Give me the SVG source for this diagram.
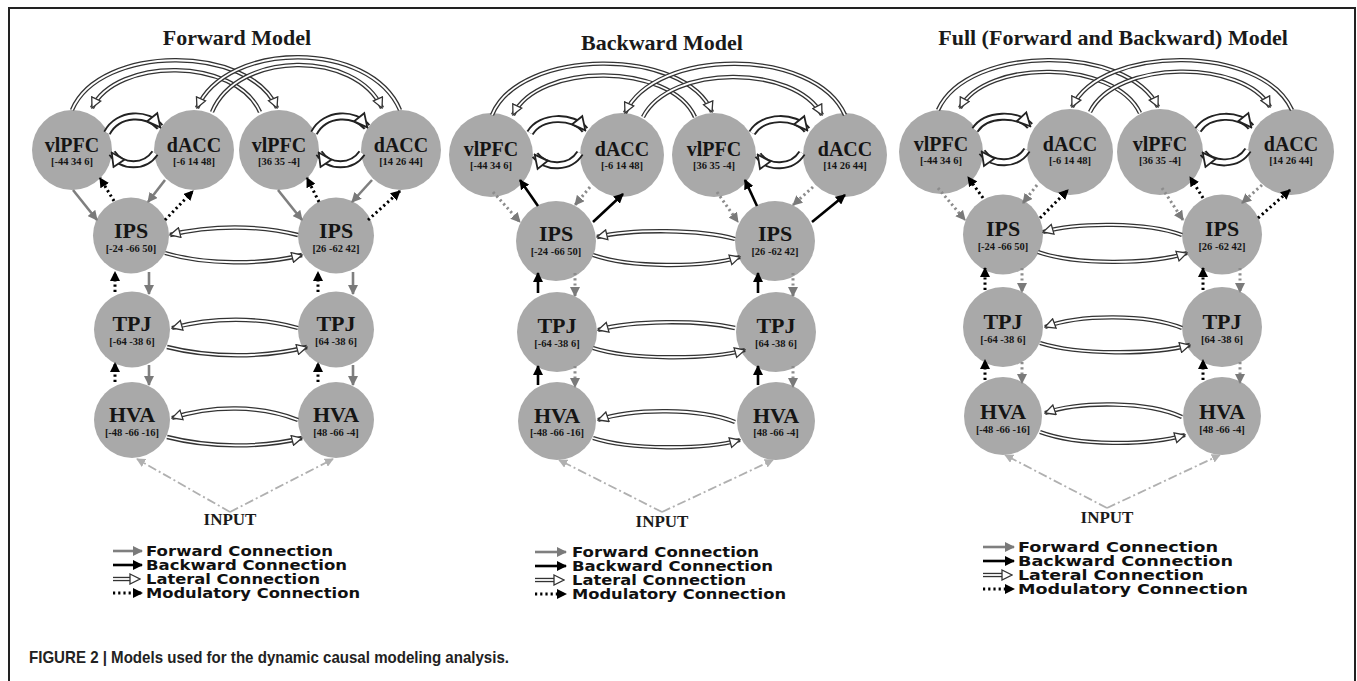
<svg xmlns="http://www.w3.org/2000/svg" width="1357" height="681" viewBox="0 0 1357 681">
<style>
.n{fill:#a9a9a9}
.t{font-family:"Liberation Serif","Times New Roman",serif;font-weight:bold;text-anchor:middle;fill:#151515}
.big{font-size:20px}
.mid{font-size:22px}
.co{font-size:10.5px}
.title{font-family:"Liberation Serif","Times New Roman",serif;font-weight:bold;font-size:22px;text-anchor:middle;fill:#1a1a1a}
.inp{font-family:"Liberation Serif","Times New Roman",serif;font-weight:bold;font-size:17px;text-anchor:middle;fill:#1a1a1a}
.leg{font-family:"DejaVu Sans",Verdana,sans-serif;font-weight:bold;font-size:14.5px;fill:#111}
.fwd{fill:none;stroke:#7f7f7f;stroke-width:2.6}
.bwd{fill:none;stroke:#000;stroke-width:2.6}
.mk{fill:none;stroke:#000;stroke-width:3;stroke-dasharray:2.2 3}
.mg{fill:none;stroke:#8c8c8c;stroke-width:3;stroke-dasharray:2.2 3}
.lo{fill:none;stroke:#333;stroke-width:4.4}
.li{fill:none;stroke:#fff;stroke-width:1.8}
.co2{fill:none;stroke:#222;stroke-width:8}
.ci2{fill:none;stroke:#fff;stroke-width:4.2}
.ip{fill:none;stroke:#b0b0b0;stroke-width:1.8;stroke-dasharray:9 3 2 3}
.cap{font-family:"Liberation Sans",Arial,sans-serif;font-weight:bold;font-size:17px;fill:#222}
</style>
<defs>
<marker id="hG" viewBox="0 0 10 10" refX="9" refY="5" markerWidth="10" markerHeight="10" markerUnits="userSpaceOnUse" orient="auto"><path d="M0,0L10,5L0,10z" fill="#7a7a7a"/></marker>
<marker id="hK" viewBox="0 0 10 10" refX="9" refY="5" markerWidth="10" markerHeight="10" markerUnits="userSpaceOnUse" orient="auto"><path d="M0,0L10,5L0,10z" fill="#000"/></marker>
<marker id="hO" viewBox="0 0 12 12" refX="11" refY="6" markerWidth="12" markerHeight="12" markerUnits="userSpaceOnUse" orient="auto"><path d="M1,1L11,6L1,11z" fill="#fff" stroke="#333" stroke-width="1.3"/></marker>
<marker id="hB" viewBox="0 0 16 16" refX="14" refY="8" markerWidth="16" markerHeight="16" markerUnits="userSpaceOnUse" orient="auto"><path d="M1.5,1.5L14.5,8L1.5,14.5z" fill="#fff" stroke="#222" stroke-width="1.8"/></marker>
<marker id="hI" viewBox="0 0 10 10" refX="9" refY="5" markerWidth="9" markerHeight="9" markerUnits="userSpaceOnUse" orient="auto"><path d="M0,0L10,5L0,10z" fill="#b0b0b0"/></marker>
</defs>
<rect x="0" y="0" width="1357" height="681" fill="#fff"/>
<path d="M9,681 L9,8 L1355,8 L1355,681" fill="none" stroke="#222" stroke-width="2"/>

<text class="title" x="237" y="45">Forward Model</text>
<text class="title" x="662" y="50">Backward Model</text>
<text class="title" x="1113" y="45">Full (Forward and Backward) Model</text>

<!-- Panel 1 nodes -->
<g id="p1-vlPFC-L"><circle class="n" cx="72" cy="150" r="40"/><text class="t big" x="72" y="152">vlPFC</text><text class="t co" x="72" y="165">[-44 34 6]</text></g>
<g id="p1-dACC-L"><circle class="n" cx="194" cy="150" r="40"/><text class="t big" x="194" y="152">dACC</text><text class="t co" x="194" y="165">[-6 14 48]</text></g>
<g id="p1-vlPFC-R"><circle class="n" cx="279" cy="150" r="40"/><text class="t big" x="279" y="152">vlPFC</text><text class="t co" x="279" y="165">[36 35 -4]</text></g>
<g id="p1-dACC-R"><circle class="n" cx="401" cy="150" r="40"/><text class="t big" x="401" y="152">dACC</text><text class="t co" x="401" y="165">[14 26 44]</text></g>
<g id="p1-IPS-L"><circle class="n" cx="131" cy="235.5" r="38"/><text class="t mid" x="131" y="238">IPS</text><text class="t co" x="131" y="252">[-24 -66 50]</text></g>
<g id="p1-IPS-R"><circle class="n" cx="336" cy="235.5" r="38"/><text class="t mid" x="336" y="238">IPS</text><text class="t co" x="336" y="252">[26 -62 42]</text></g>
<g id="p1-TPJ-L"><circle class="n" cx="132" cy="329.5" r="38"/><text class="t mid" x="132" y="331">TPJ</text><text class="t co" x="132" y="345">[-64 -38 6]</text></g>
<g id="p1-TPJ-R"><circle class="n" cx="336" cy="329.5" r="38"/><text class="t mid" x="336" y="331">TPJ</text><text class="t co" x="336" y="345">[64 -38 6]</text></g>
<g id="p1-HVA-L"><circle class="n" cx="132" cy="420" r="38"/><text class="t mid" x="132" y="422">HVA</text><text class="t co" x="132" y="436">[-48 -66 -16]</text></g>
<g id="p1-HVA-R"><circle class="n" cx="336" cy="420" r="38"/><text class="t mid" x="336" y="422">HVA</text><text class="t co" x="336" y="436">[48 -66 -4]</text></g>

<!-- Panel 2 nodes -->
<g id="p2-vlPFC-L"><circle class="n" cx="491" cy="155" r="42"/><text class="t big" x="491" y="156">vlPFC</text><text class="t co" x="491" y="169">[-44 34 6]</text></g>
<g id="p2-dACC-L"><circle class="n" cx="622" cy="155" r="42"/><text class="t big" x="622" y="156">dACC</text><text class="t co" x="622" y="169">[-6 14 48]</text></g>
<g id="p2-vlPFC-R"><circle class="n" cx="714" cy="155" r="42"/><text class="t big" x="714" y="156">vlPFC</text><text class="t co" x="714" y="169">[36 35 -4]</text></g>
<g id="p2-dACC-R"><circle class="n" cx="845" cy="155" r="42"/><text class="t big" x="845" y="156">dACC</text><text class="t co" x="845" y="169">[14 26 44]</text></g>
<g id="p2-IPS-L"><circle class="n" cx="556" cy="241" r="40"/><text class="t mid" x="556" y="241">IPS</text><text class="t co" x="556" y="255">[-24 -66 50]</text></g>
<g id="p2-IPS-R"><circle class="n" cx="775" cy="241" r="40"/><text class="t mid" x="775" y="241">IPS</text><text class="t co" x="775" y="255">[26 -62 42]</text></g>
<g id="p2-TPJ-L"><circle class="n" cx="557" cy="332" r="40"/><text class="t mid" x="557" y="333">TPJ</text><text class="t co" x="557" y="347">[-64 -38 6]</text></g>
<g id="p2-TPJ-R"><circle class="n" cx="776" cy="332" r="40"/><text class="t mid" x="776" y="333">TPJ</text><text class="t co" x="776" y="347">[64 -38 6]</text></g>
<g id="p2-HVA-L"><circle class="n" cx="557" cy="421" r="39"/><text class="t mid" x="557" y="423">HVA</text><text class="t co" x="557" y="436">[-48 -66 -16]</text></g>
<g id="p2-HVA-R"><circle class="n" cx="776" cy="421" r="39"/><text class="t mid" x="776" y="423">HVA</text><text class="t co" x="776" y="436">[48 -66 -4]</text></g>

<!-- Panel 3 nodes -->
<g id="p3-vlPFC-L"><circle class="n" cx="941" cy="152" r="42"/><text class="t big" x="941" y="151">vlPFC</text><text class="t co" x="941" y="164">[-44 34 6]</text></g>
<g id="p3-dACC-L"><circle class="n" cx="1070" cy="152" r="43"/><text class="t big" x="1070" y="151">dACC</text><text class="t co" x="1070" y="164">[-6 14 48]</text></g>
<g id="p3-vlPFC-R"><circle class="n" cx="1160" cy="152" r="43"/><text class="t big" x="1160" y="151">vlPFC</text><text class="t co" x="1160" y="164">[36 35 -4]</text></g>
<g id="p3-dACC-R"><circle class="n" cx="1291" cy="152" r="43"/><text class="t big" x="1291" y="151">dACC</text><text class="t co" x="1291" y="164">[14 26 44]</text></g>
<g id="p3-IPS-L"><circle class="n" cx="1003" cy="234.5" r="40"/><text class="t mid" x="1003" y="236">IPS</text><text class="t co" x="1003" y="250">[-24 -66 50]</text></g>
<g id="p3-IPS-R"><circle class="n" cx="1222" cy="234.5" r="40"/><text class="t mid" x="1222" y="236">IPS</text><text class="t co" x="1222" y="250">[26 -62 42]</text></g>
<g id="p3-TPJ-L"><circle class="n" cx="1003" cy="327" r="40"/><text class="t mid" x="1003" y="329">TPJ</text><text class="t co" x="1003" y="343">[-64 -38 6]</text></g>
<g id="p3-TPJ-R"><circle class="n" cx="1222" cy="327" r="40"/><text class="t mid" x="1222" y="329">TPJ</text><text class="t co" x="1222" y="343">[64 -38 6]</text></g>
<g id="p3-HVA-L"><circle class="n" cx="1003" cy="416" r="39"/><text class="t mid" x="1003" y="419">HVA</text><text class="t co" x="1003" y="433">[-48 -66 -16]</text></g>
<g id="p3-HVA-R"><circle class="n" cx="1222" cy="416" r="39"/><text class="t mid" x="1222" y="419">HVA</text><text class="t co" x="1222" y="433">[48 -66 -4]</text></g>

<g id="connectors">
<!-- Panel 1 top arcs -->
<path class="lo" d="M72,110 C100,44 250,44 277,108"/><path class="li" d="M72,110 C100,44 250,44 277,108" marker-end="url(#hO)"/>
<path class="lo" d="M260,112 C236,57 116,57 92,108"/><path class="li" d="M260,112 C236,57 116,57 92,108" marker-end="url(#hO)"/>
<path class="lo" d="M212,112 C238,50 356,50 382,108"/><path class="li" d="M212,112 C238,50 356,50 382,108" marker-end="url(#hO)"/>
<path class="lo" d="M400,110 C370,40 227,40 197,108"/><path class="li" d="M400,110 C370,40 227,40 197,108" marker-end="url(#hO)"/>
<path class="co2" d="M107,133 C118,112 148,112 160,127"/><path class="ci2" d="M107,133 C118,112 148,112 160,127" marker-end="url(#hB)"/>
<path class="co2" d="M155,153 C145,168 122,168 112,153"/><path class="ci2" d="M155,153 C145,168 122,168 112,153" marker-end="url(#hB)"/>
<path class="co2" d="M314,133 C325,112 355,112 367,127"/><path class="ci2" d="M314,133 C325,112 355,112 367,127" marker-end="url(#hB)"/>
<path class="co2" d="M362,153 C352,168 329,168 319,153"/><path class="ci2" d="M362,153 C352,168 329,168 319,153" marker-end="url(#hB)"/>
<!-- Panel 1 forward -->
<path class="fwd" d="M73,190 L97,220" marker-end="url(#hG)"/>
<path class="fwd" d="M165,180 L148,202" marker-end="url(#hG)"/>
<path class="fwd" d="M278,190 L302,220" marker-end="url(#hG)"/>
<path class="fwd" d="M372,180 L352,202" marker-end="url(#hG)"/>
<path class="fwd" d="M149,272 L149,294" marker-end="url(#hG)"/>
<path class="fwd" d="M149,365 L149,385" marker-end="url(#hG)"/>
<path class="fwd" d="M353,272 L353,294" marker-end="url(#hG)"/>
<path class="fwd" d="M353,365 L353,385" marker-end="url(#hG)"/>
<!-- Panel 1 modulatory -->
<path class="mk" d="M114,201 L100,178" marker-end="url(#hK)"/>
<path class="mk" d="M165,220 L193,191" marker-end="url(#hK)"/>
<path class="mk" d="M319,202 L307,178" marker-end="url(#hK)"/>
<path class="mk" d="M368,220 L400,191" marker-end="url(#hK)"/>
<path class="mk" d="M115,292 L115,272" marker-end="url(#hK)"/>
<path class="mk" d="M115,382 L115,363" marker-end="url(#hK)"/>
<path class="mk" d="M318,292 L318,272" marker-end="url(#hK)"/>
<path class="mk" d="M318,382 L318,363" marker-end="url(#hK)"/>
<!-- Panel 1 laterals -->
<path class="lo" d="M298,235 C260,225 210,225 170,235"/><path class="li" d="M298,235 C260,225 210,225 170,235" marker-end="url(#hO)"/>
<path class="lo" d="M165,253 C205,265 262,265 302,255"/><path class="li" d="M165,253 C205,265 262,265 302,255" marker-end="url(#hO)"/>
<path class="lo" d="M298,328 C260,317 212,317 172,328"/><path class="li" d="M298,328 C260,317 212,317 172,328" marker-end="url(#hO)"/>
<path class="lo" d="M167,347 C210,358 265,358 307,347"/><path class="li" d="M167,347 C210,358 265,358 307,347" marker-end="url(#hO)"/>
<path class="lo" d="M298,420 C260,405 212,405 172,418"/><path class="li" d="M298,420 C260,405 212,405 172,418" marker-end="url(#hO)"/>
<path class="lo" d="M167,437 C210,448 262,448 302,438"/><path class="li" d="M167,437 C210,448 262,448 302,438" marker-end="url(#hO)"/>
<!-- Panel 1 input -->
<path class="ip" d="M230,512 L137,459" marker-end="url(#hI)"/>
<path class="ip" d="M230,512 L333,459" marker-end="url(#hI)"/>

<!-- Panel 2 top arcs -->
<path class="lo" d="M492,115 C520,47 685,47 712,112"/><path class="li" d="M492,115 C520,47 685,47 712,112" marker-end="url(#hO)"/>
<path class="lo" d="M695,117 C670,62 538,62 513,115"/><path class="li" d="M695,117 C670,62 538,62 513,115" marker-end="url(#hO)"/>
<path class="lo" d="M643,117 C670,64 795,64 822,115"/><path class="li" d="M643,117 C670,64 795,64 822,115" marker-end="url(#hO)"/>
<path class="lo" d="M845,115 C815,47 655,47 625,113"/><path class="li" d="M845,115 C815,47 655,47 625,113" marker-end="url(#hO)"/>
<path class="co2" d="M530,133 C541,115 573,115 585,130"/><path class="ci2" d="M530,133 C541,115 573,115 585,130" marker-end="url(#hB)"/>
<path class="co2" d="M580,153 C570,169 546,169 535,155"/><path class="ci2" d="M580,153 C570,169 546,169 535,155" marker-end="url(#hB)"/>
<path class="co2" d="M752,133 C763,115 795,115 807,130"/><path class="ci2" d="M752,133 C763,115 795,115 807,130" marker-end="url(#hB)"/>
<path class="co2" d="M802,153 C792,169 768,169 758,155"/><path class="ci2" d="M802,153 C792,169 768,169 758,155" marker-end="url(#hB)"/>
<!-- Panel 2 backward -->
<path class="bwd" d="M538,206 L520,180" marker-end="url(#hK)"/>
<path class="bwd" d="M593,222 L623,194" marker-end="url(#hK)"/>
<path class="bwd" d="M757,206 L745,180" marker-end="url(#hK)"/>
<path class="bwd" d="M812,222 L845,195" marker-end="url(#hK)"/>
<path class="bwd" d="M538,293 L538,273" marker-end="url(#hK)"/>
<path class="bwd" d="M538,385 L538,366" marker-end="url(#hK)"/>
<path class="bwd" d="M758,293 L758,273" marker-end="url(#hK)"/>
<path class="bwd" d="M758,385 L758,366" marker-end="url(#hK)"/>
<!-- Panel 2 modulatory forward -->
<path class="mg" d="M493,192 L520,222" marker-end="url(#hG)"/>
<path class="mg" d="M590,187 L575,205" marker-end="url(#hG)"/>
<path class="mg" d="M717,192 L738,222" marker-end="url(#hG)"/>
<path class="mg" d="M813,187 L793,205" marker-end="url(#hG)"/>
<path class="mg" d="M575,273 L575,296" marker-end="url(#hG)"/>
<path class="mg" d="M575,366 L575,387" marker-end="url(#hG)"/>
<path class="mg" d="M793,273 L793,296" marker-end="url(#hG)"/>
<path class="mg" d="M793,366 L793,387" marker-end="url(#hG)"/>
<!-- Panel 2 laterals -->
<path class="lo" d="M735,239 C700,229 632,229 597,237"/><path class="li" d="M735,239 C700,229 632,229 597,237" marker-end="url(#hO)"/>
<path class="lo" d="M593,255 C630,268 703,268 740,257"/><path class="li" d="M593,255 C630,268 703,268 740,257" marker-end="url(#hO)"/>
<path class="lo" d="M735,328 C700,320 633,320 598,330"/><path class="li" d="M735,328 C700,320 633,320 598,330" marker-end="url(#hO)"/>
<path class="lo" d="M593,348 C630,360 708,360 745,350"/><path class="li" d="M593,348 C630,360 708,360 745,350" marker-end="url(#hO)"/>
<path class="lo" d="M735,422 C700,408 633,408 598,420"/><path class="li" d="M735,422 C700,408 633,408 598,420" marker-end="url(#hO)"/>
<path class="lo" d="M593,438 C630,450 703,450 740,440"/><path class="li" d="M593,438 C630,450 703,450 740,440" marker-end="url(#hO)"/>
<!-- Panel 2 input -->
<path class="ip" d="M662,512 L559,460" marker-end="url(#hI)"/>
<path class="ip" d="M662,512 L773,460" marker-end="url(#hI)"/>

<!-- Panel 3 top arcs -->
<path class="lo" d="M938,110 C968,44 1128,44 1158,107"/><path class="li" d="M938,110 C968,44 1128,44 1158,107" marker-end="url(#hO)"/>
<path class="lo" d="M1140,113 C1114,59 986,59 960,108"/><path class="li" d="M1140,113 C1114,59 986,59 960,108" marker-end="url(#hO)"/>
<path class="lo" d="M1090,112 C1116,59 1244,59 1270,107"/><path class="li" d="M1090,112 C1116,59 1244,59 1270,107" marker-end="url(#hO)"/>
<path class="lo" d="M1292,110 C1262,44 1102,44 1072,107"/><path class="li" d="M1292,110 C1262,44 1102,44 1072,107" marker-end="url(#hO)"/>
<path class="co2" d="M975,130 C986,113 1018,113 1030,126"/><path class="ci2" d="M975,130 C986,113 1018,113 1030,126" marker-end="url(#hB)"/>
<path class="co2" d="M1027,150 C1017,166 992,166 982,152"/><path class="ci2" d="M1027,150 C1017,166 992,166 982,152" marker-end="url(#hB)"/>
<path class="co2" d="M1198,130 C1209,113 1240,113 1251,127"/><path class="ci2" d="M1198,130 C1209,113 1240,113 1251,127" marker-end="url(#hB)"/>
<path class="co2" d="M1248,150 C1238,166 1213,166 1203,153"/><path class="ci2" d="M1248,150 C1238,166 1213,166 1203,153" marker-end="url(#hB)"/>
<!-- Panel 3 modulatory backward (black dotted) -->
<path class="mk" d="M983,198 L968,177" marker-end="url(#hK)"/>
<path class="mk" d="M1040,218 L1068,190" marker-end="url(#hK)"/>
<path class="mk" d="M1203,198 L1190,177" marker-end="url(#hK)"/>
<path class="mk" d="M1258,218 L1290,190" marker-end="url(#hK)"/>
<path class="mk" d="M985,290 L985,268" marker-end="url(#hK)"/>
<path class="mk" d="M985,380 L985,360" marker-end="url(#hK)"/>
<path class="mk" d="M1203,290 L1203,268" marker-end="url(#hK)"/>
<path class="mk" d="M1203,380 L1203,360" marker-end="url(#hK)"/>
<!-- Panel 3 modulatory forward (gray dotted) -->
<path class="mg" d="M938,188 L965,220" marker-end="url(#hG)"/>
<path class="mg" d="M1037,185 L1023,203" marker-end="url(#hG)"/>
<path class="mg" d="M1162,188 L1183,220" marker-end="url(#hG)"/>
<path class="mg" d="M1262,185 L1242,203" marker-end="url(#hG)"/>
<path class="mg" d="M1022,268 L1022,292" marker-end="url(#hG)"/>
<path class="mg" d="M1022,362 L1022,383" marker-end="url(#hG)"/>
<path class="mg" d="M1240,268 L1240,292" marker-end="url(#hG)"/>
<path class="mg" d="M1240,362 L1240,383" marker-end="url(#hG)"/>
<!-- Panel 3 laterals -->
<path class="lo" d="M1182,235 C1147,222 1078,222 1043,232"/><path class="li" d="M1182,235 C1147,222 1078,222 1043,232" marker-end="url(#hO)"/>
<path class="lo" d="M1038,252 C1075,265 1150,265 1187,253"/><path class="li" d="M1038,252 C1075,265 1150,265 1187,253" marker-end="url(#hO)"/>
<path class="lo" d="M1182,328 C1147,314 1080,314 1045,327"/><path class="li" d="M1182,328 C1147,314 1080,314 1045,327" marker-end="url(#hO)"/>
<path class="lo" d="M1040,343 C1078,355 1152,355 1190,345"/><path class="li" d="M1040,343 C1078,355 1152,355 1190,345" marker-end="url(#hO)"/>
<path class="lo" d="M1182,417 C1147,401 1080,401 1045,413"/><path class="li" d="M1182,417 C1147,401 1080,401 1045,413" marker-end="url(#hO)"/>
<path class="lo" d="M1040,432 C1078,446 1147,446 1185,435"/><path class="li" d="M1040,432 C1078,446 1147,446 1185,435" marker-end="url(#hO)"/>
<!-- Panel 3 input -->
<path class="ip" d="M1107,508 L1005,455" marker-end="url(#hI)"/>
<path class="ip" d="M1107,508 L1220,455" marker-end="url(#hI)"/>
</g>

<text class="inp" x="230" y="525">INPUT</text>
<text class="inp" x="662" y="527">INPUT</text>
<text class="inp" x="1107" y="523">INPUT</text>

<!-- Legends -->
<g id="legend1">
<path class="fwd" d="M113,551 L142,551" marker-end="url(#hG)"/>
<path class="bwd" d="M113,565 L142,565" marker-end="url(#hK)"/>
<path class="lo" d="M113,579 L133,579"/><path class="li" d="M113,579 L140,579" marker-end="url(#hO)"/>
<path class="mk" d="M113,593 L142,593" marker-end="url(#hK)"/>
<text class="leg" x="146" y="556" textLength="187" lengthAdjust="spacingAndGlyphs">Forward Connection</text>
<text class="leg" x="146" y="570" textLength="201" lengthAdjust="spacingAndGlyphs">Backward Connection</text>
<text class="leg" x="146" y="584" textLength="174" lengthAdjust="spacingAndGlyphs">Lateral Connection</text>
<text class="leg" x="146" y="598" textLength="214" lengthAdjust="spacingAndGlyphs">Modulatory Connection</text>
</g>
<g id="legend2">
<path class="fwd" d="M535,552 L566,552" marker-end="url(#hG)"/>
<path class="bwd" d="M535,566 L566,566" marker-end="url(#hK)"/>
<path class="lo" d="M535,580 L557,580"/><path class="li" d="M535,580 L564,580" marker-end="url(#hO)"/>
<path class="mk" d="M535,594 L566,594" marker-end="url(#hK)"/>
<text class="leg" x="572" y="557" textLength="187" lengthAdjust="spacingAndGlyphs">Forward Connection</text>
<text class="leg" x="572" y="571" textLength="201" lengthAdjust="spacingAndGlyphs">Backward Connection</text>
<text class="leg" x="572" y="585" textLength="174" lengthAdjust="spacingAndGlyphs">Lateral Connection</text>
<text class="leg" x="572" y="599" textLength="214" lengthAdjust="spacingAndGlyphs">Modulatory Connection</text>
</g>
<g id="legend3">
<path class="fwd" d="M983,547 L1014,547" marker-end="url(#hG)"/>
<path class="bwd" d="M983,561 L1014,561" marker-end="url(#hK)"/>
<path class="lo" d="M983,575 L1005,575"/><path class="li" d="M983,575 L1012,575" marker-end="url(#hO)"/>
<path class="mk" d="M983,589 L1014,589" marker-end="url(#hK)"/>
<text class="leg" x="1018" y="552" textLength="200" lengthAdjust="spacingAndGlyphs">Forward Connection</text>
<text class="leg" x="1018" y="566" textLength="215" lengthAdjust="spacingAndGlyphs">Backward Connection</text>
<text class="leg" x="1018" y="580" textLength="186" lengthAdjust="spacingAndGlyphs">Lateral Connection</text>
<text class="leg" x="1018" y="594" textLength="230" lengthAdjust="spacingAndGlyphs">Modulatory Connection</text>
</g>

<text class="cap" x="29" y="663" textLength="480" lengthAdjust="spacingAndGlyphs">FIGURE 2 | Models used for the dynamic causal modeling analysis.</text>
</svg>
